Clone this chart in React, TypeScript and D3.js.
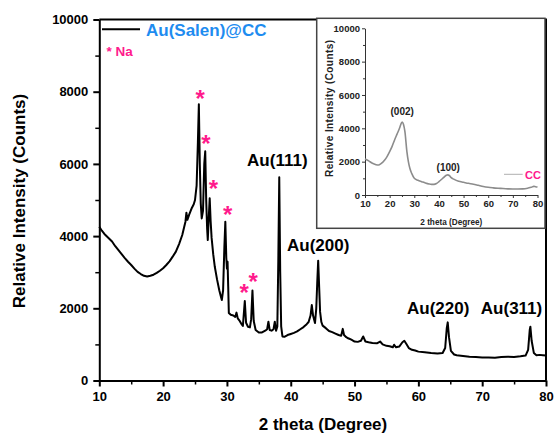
import React, { useRef, useEffect } from 'react';
import * as d3 from 'd3';

// Au(Salen)@CC pattern
const mainTheta = [
  10.0, 10.4, 10.8, 11.2, 11.6, 12.0, 12.5, 13.0, 13.5, 14.0, 14.5, 15.0, 15.5, 16.0, 16.5, 17.0, 17.5, 18.0,
  18.5, 19.0, 19.5, 20.0, 20.5, 21.0, 21.5, 22.0, 22.5, 23.0, 23.3, 23.5, 23.65, 23.8, 24.1, 24.5, 24.8, 25.0,
  25.25, 25.45, 25.6, 25.75, 25.9, 26.05, 26.25, 26.45, 26.6, 26.75, 26.9, 27.0, 27.15, 27.3, 27.45, 27.6,
  27.85, 28.1, 28.45, 28.8, 29.05, 29.2, 29.4, 29.6, 29.75, 29.9, 30.0, 30.1, 30.2, 30.3, 30.6, 31.0, 31.3,
  31.5, 31.7, 32.0, 32.3, 32.5, 32.8, 33.0, 33.3, 33.6, 33.8, 34.0, 34.2, 34.5, 35.0, 35.5, 36.0, 36.3, 36.5,
  36.7, 37.0, 37.3, 37.5, 37.7, 37.9, 38.05, 38.2, 38.35, 38.5, 38.7, 39.0, 39.5, 40.0, 40.5, 41.0, 41.5,
  42.0, 42.5, 42.8, 43.1, 43.3, 43.5, 43.8, 44.0, 44.15, 44.3, 44.45, 44.6, 44.8, 45.0, 45.5, 46.0, 46.5,
  47.0, 47.5, 47.9, 48.15, 48.35, 48.7, 49.0, 49.5, 50.0, 50.5, 51.0, 51.35, 51.7, 52.2, 52.8, 53.5, 54.0,
  54.4, 55.0, 55.5, 56.0, 56.2, 56.5, 57.0, 57.5, 57.8, 58.1, 58.5, 59.0, 59.5, 60.0, 61.0, 62.0, 63.0, 63.8,
  64.2, 64.45, 64.6, 64.8, 65.1, 65.6, 66.0, 67.0, 68.0, 69.0, 70.0, 71.0, 72.0, 73.0, 74.0, 75.0, 76.0,
  76.8, 77.2, 77.45, 77.55, 77.75, 78.1, 78.5, 79.0, 79.5, 80.0,
];
const mainCounts = [
  4260, 4150, 4060, 3990, 3920, 3850, 3720, 3610, 3500, 3390, 3290, 3200, 3100, 3010, 2950, 2900, 2880, 2900,
  2930, 2980, 3040, 3110, 3200, 3300, 3430, 3570, 3780, 4030, 4250, 4400, 4650, 4450, 4600, 4780, 4880, 5000,
  5400, 6600, 7650, 6000, 4900, 4490, 4700, 6000, 6350, 5000, 4200, 3890, 4500, 5050, 4400, 3950,
  3500, 3150, 2800, 2500, 2330, 2230, 2500, 3700, 4400, 3400, 3100, 3290, 2600, 1870, 1820, 1800, 1760,
  1880, 1720, 1650, 1560, 1510, 2200, 1600, 1490, 1470, 1700, 2490, 1650, 1400, 1330, 1330, 1380, 1420, 1630,
  1400, 1380, 1420, 1630, 1380, 1500, 3300, 5630, 3000, 1500, 1220, 1210, 1260, 1290, 1320, 1360, 1420,
  1480, 1560, 1620, 1800, 2090, 1800, 1590, 2000, 2700, 3320, 2600, 1900, 1620, 1520, 1450, 1370, 1340,
  1300, 1260, 1240, 1430, 1260, 1200, 1170, 1130, 1080, 1070, 1100, 1220, 1080, 1060, 1040, 1030, 1080,
  1000, 960, 950, 920, 990, 920, 940, 1060, 1100, 1020, 900, 850, 830, 800, 780, 760, 750, 760,
  900, 1450, 1610, 1200, 820, 720, 700, 680, 660, 650, 640, 640, 630, 650, 660, 650, 670,
  690, 850, 1400, 1490, 1100, 760, 700, 710, 700, 690,
];

// CC (inset)
const ccTheta = [
  10, 11.5, 13, 14.5, 15.5, 16.5, 18, 19, 20, 21, 22, 23, 24, 24.7, 25.1, 25.6, 26.2, 27, 27.6, 28.2, 29, 30,
  31.5, 33, 34.5, 36, 37, 38, 39, 40, 41, 42, 43, 43.6, 44.2, 45, 46, 48, 50, 52, 54, 56, 58, 60, 62, 65, 68,
  70, 72, 74, 76, 77.5, 78.5, 79.2, 80,
];
const ccCounts = [
  2160, 2050, 1900, 1820, 1800, 1880, 2100, 2320, 2600, 2920, 3300, 3650, 4000, 4300, 4380, 4250, 3800, 2600,
  2000, 1600, 1280, 1000, 880, 800, 720, 660, 640, 640, 690, 800, 930, 1060, 1180, 1210, 1170, 1040, 950, 820,
  760, 700, 650, 580, 510, 460, 430, 400, 370, 360, 360, 370, 410, 460, 520, 500, 480,
];

const starTheta = [25.8, 26.7, 27.9, 30.1, 32.7, 34.1];
const starCounts = [7930, 6680, 5430, 4720, 2570, 2880];

const peakLabels = ['Au(111)', 'Au(200)', 'Au(220)', 'Au(311)'];
const peakTheta = [37.9, 44.3, 63.1, 74.6];
const peakCounts = [5940, 3590, 1830, 1840];

const ccLabels = ['(002)', '(100)'];
const ccLabelTheta = [25.1, 43.8];
const ccLabelCounts = [4800, 1460];

const xTicks = [10, 20, 30, 40, 50, 60, 70, 80];
const xMinor = [15, 25, 35, 45, 55, 65, 75];
const yTicks = [0, 2000, 4000, 6000, 8000, 10000];
const yMinor = [1000, 3000, 5000, 7000, 9000];

const FONT = 'Arial, "Liberation Sans", sans-serif';
const NARROW = '"Liberation Sans Narrow", "Arial Narrow", Arial, "Liberation Sans", sans-serif';

const App = () => {
  const ref = useRef(null);

  useEffect(() => {
    const svg = d3.select(ref.current);
    svg.selectAll('*').remove();

    // main plot
    const x = d3.scaleLinear().domain([10, 80]).range([99.3, 546]);
    const y = d3.scaleLinear().domain([0, 10000]).range([380.5, 19.5]);

    const axisStyle = (g, w, color) => {
      g.selectAll('path, line').attr('stroke', color).attr('stroke-width', w);
    };

    // frame top/right
    svg.append('path')
      .attr('d', `M${x(10)},${y(10000)}H${x(80)}V${y(0)}`)
      .attr('fill', 'none').attr('stroke', '#000').attr('stroke-width', 2);

    const gx = svg.append('g').attr('transform', `translate(0,${y(0)})`)
      .call(d3.axisBottom(x).tickValues(xTicks).tickSize(6).tickSizeOuter(0).tickPadding(5));
    axisStyle(gx, 2, '#000');
    gx.selectAll('text').attr('font-family', FONT).attr('font-weight', 'bold').attr('font-size', 13).attr('fill', '#000');
    const gxm = svg.append('g').attr('transform', `translate(0,${y(0)})`)
      .call(d3.axisBottom(x).tickValues(xMinor).tickSize(4).tickFormat(() => ''));
    gxm.select('.domain').remove();
    axisStyle(gxm, 1.5, '#000');

    const gy = svg.append('g').attr('transform', `translate(${x(10)},0)`)
      .call(d3.axisLeft(y).tickValues(yTicks).tickSize(6).tickSizeOuter(0).tickPadding(5).tickFormat(d3.format('d')));
    axisStyle(gy, 2, '#000');
    gy.selectAll('text').attr('font-family', FONT).attr('font-weight', 'bold').attr('font-size', 13).attr('fill', '#000');
    const gym = svg.append('g').attr('transform', `translate(${x(10)},0)`)
      .call(d3.axisLeft(y).tickValues(yMinor).tickSize(4).tickFormat(() => ''));
    gym.select('.domain').remove();
    axisStyle(gym, 1.5, '#000');

    svg.append('text')
      .attr('transform', `translate(25,201) rotate(-90)`)
      .attr('text-anchor', 'middle').attr('font-family', FONT).attr('font-weight', 'bold').attr('font-size', 17)
      .text('Relative Intensity (Counts)');
    svg.append('text')
      .attr('x', 323).attr('y', 430)
      .attr('text-anchor', 'middle').attr('font-family', FONT).attr('font-weight', 'bold').attr('font-size', 17)
      .text('2 theta (Degree)');

    const line = d3.line().x(d => x(d[0])).y(d => y(d[1]));
    svg.append('path')
      .datum(mainTheta.map((t, i) => [t, mainCounts[i]]))
      .attr('d', line)
      .attr('fill', 'none').attr('stroke', '#000').attr('stroke-width', 2).attr('stroke-linejoin', 'round');

    // legend
    svg.append('line').attr('x1', 102).attr('x2', 140).attr('y1', 29.3).attr('y2', 29.3)
      .attr('stroke', '#000').attr('stroke-width', 2);
    svg.append('text').attr('x', 146).attr('y', 35.5)
      .attr('font-family', FONT).attr('font-weight', 'bold').attr('font-size', 17).attr('fill', '#1e8cf0')
      .text('Au(Salen)@CC');
    svg.append('text').attr('x', 106.5).attr('y', 56)
      .attr('font-family', FONT).attr('font-weight', 'bold').attr('font-size', 13.5).attr('fill', '#ff1a8c')
      .text('* Na');

    // Na stars
    svg.selectAll('.star').data(starTheta).enter().append('text')
      .attr('class', 'star')
      .attr('x', d => x(d)).attr('y', (d, i) => y(starCounts[i]) + 13)
      .attr('text-anchor', 'middle').attr('font-family', FONT).attr('font-weight', 'bold').attr('font-size', 24)
      .attr('fill', '#ff1a8c').text('*');

    // Au peak labels
    svg.selectAll('.peak').data(peakLabels).enter().append('text')
      .attr('class', 'peak')
      .attr('x', (d, i) => x(peakTheta[i])).attr('y', (d, i) => y(peakCounts[i]))
      .attr('text-anchor', 'middle').attr('font-family', FONT).attr('font-weight', 'bold').attr('font-size', 17)
      .text(d => d);

    // inset
    const inset = svg.append('g');
    inset.append('rect').attr('x', 316.7).attr('y', 18.3).attr('width', 228.3).attr('height', 210)
      .attr('fill', '#fff').attr('stroke', '#444').attr('stroke-width', 1.5);

    const ix = d3.scaleLinear().domain([10, 80]).range([365, 537.5]);
    const iy = d3.scaleLinear().domain([0, 10000]).range([195, 28.3]);

    const igx = inset.append('g').attr('transform', `translate(0,${iy(0)})`)
      .call(d3.axisBottom(ix).tickValues(xTicks).tickSize(3).tickSizeOuter(0).tickPadding(2));
    axisStyle(igx, 1, '#333');
    igx.selectAll('text').attr('font-family', NARROW).attr('font-weight', 'bold').attr('font-size', 9.5).attr('fill', '#222');
    const igxm = inset.append('g').attr('transform', `translate(0,${iy(0)})`)
      .call(d3.axisBottom(ix).tickValues(xMinor).tickSize(2).tickFormat(() => ''));
    igxm.select('.domain').remove();
    axisStyle(igxm, 1, '#333');

    const igy = inset.append('g').attr('transform', `translate(${ix(10)},0)`)
      .call(d3.axisLeft(iy).tickValues(yTicks).tickSize(3).tickSizeOuter(0).tickPadding(2).tickFormat(d3.format('d')));
    axisStyle(igy, 1, '#333');
    igy.selectAll('text').attr('font-family', NARROW).attr('font-weight', 'bold').attr('font-size', 9.5).attr('fill', '#222');
    const igym = inset.append('g').attr('transform', `translate(${ix(10)},0)`)
      .call(d3.axisLeft(iy).tickValues(yMinor).tickSize(2).tickFormat(() => ''));
    igym.select('.domain').remove();
    axisStyle(igym, 1, '#333');

    inset.append('text')
      .attr('transform', `translate(332.5,108.5) rotate(-90)`)
      .attr('text-anchor', 'middle').attr('font-family', FONT).attr('font-weight', 'bold').attr('font-size', 10)
      .attr('fill', '#222').attr('textLength', 137).attr('lengthAdjust', 'spacing')
      .text('Relative Intensity (Counts)');
    inset.append('text')
      .attr('x', 451.3).attr('y', 225)
      .attr('text-anchor', 'middle').attr('font-family', NARROW).attr('font-weight', 'bold').attr('font-size', 9.5)
      .attr('fill', '#222').attr('textLength', 62).attr('lengthAdjust', 'spacingAndGlyphs')
      .text('2 theta (Degree)');

    const iline = d3.line().x(d => ix(d[0])).y(d => iy(d[1])).curve(d3.curveMonotoneX);
    inset.append('path')
      .datum(ccTheta.map((t, i) => [t, ccCounts[i]]))
      .attr('d', iline)
      .attr('fill', 'none').attr('stroke', '#8c8c8c').attr('stroke-width', 1.6);

    inset.selectAll('.cclab').data(ccLabels).enter().append('text')
      .attr('class', 'cclab')
      .attr('x', (d, i) => ix(ccLabelTheta[i])).attr('y', (d, i) => iy(ccLabelCounts[i]))
      .attr('text-anchor', 'middle').attr('font-family', NARROW).attr('font-weight', 'bold').attr('font-size', 10)
      .attr('fill', '#222').text(d => d);

    inset.append('line').attr('x1', 504).attr('x2', 522.7).attr('y1', 174.3).attr('y2', 174.3)
      .attr('stroke', '#b0b0b0').attr('stroke-width', 1);
    inset.append('text').attr('x', 525).attr('y', 178.5)
      .attr('font-family', NARROW).attr('font-weight', 'bold').attr('font-size', 11).attr('fill', '#ff1a8c')
      .text('CC');
  }, []);

  return (
    <svg ref={ref} width={554} height={434}
      style={{ position: 'absolute', left: 0, top: 0, background: '#fff' }} />
  );
};

export default App;
